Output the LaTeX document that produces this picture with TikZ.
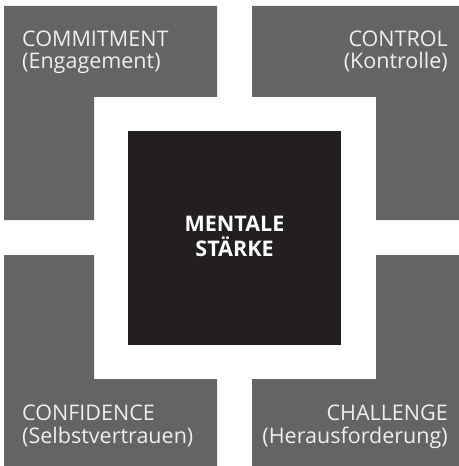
\documentclass[tikz,border=0pt]{standalone}
\usepackage{fontspec}
\setmainfont{Open Sans}
\usepackage{xcolor}
\usepackage{tikz}
\definecolor{armgray}{HTML}{646466}
\definecolor{coreblack}{HTML}{231F20}
\definecolor{labelwhite}{HTML}{EEEEEE}
\tikzset{
    arm/.style={fill=armgray, draw=none},
    core/.style={fill=coreblack, draw=none},
    title/.style={inner sep=0pt, text=labelwhite, font=\fontsize{21.6}{23}\selectfont}
}

\begin{document}
\begin{tikzpicture}[x=1bp,y=-1bp]
		\useasboundingbox (0,0) rectangle (459,466);

		% arms
		\fill[arm] (4,6) -- (217,6) -- (217,97) -- (94,97) -- (94,220) -- (4,220) -- cycle;
		\fill[arm] (252,6) -- (459,6) -- (459,220) -- (376,220) -- (376,97) -- (252,97) -- cycle;
		\fill[arm] (4,255) -- (94,255) -- (94,379) -- (217,379) -- (217,466) -- (4,466) -- cycle;
		\fill[arm] (376,255) -- (459,255) -- (459,466) -- (252,466) -- (252,379) -- (376,379) -- cycle;

		% centre
		\fill[core] (128,131) rectangle (341,345);
		\node[title, anchor=base, text=white] (mental) at (234.5,231.7) {\bfseries MENTALE};
		\node[title, anchor=base, text=white] (staerke) at (234.5,256) {\bfseries STÄRKE};

		% labels
		\node[title, anchor=base west] (commit) at (22,46.5) {COMMITMENT};
		\node[title, anchor=base west] (commitde) at (22,69) {(Engagement)};
		\node[title, anchor=base east] (control) at (448,46.5) {CONTROL};
		\node[title, anchor=base east] (controlde) at (448,69) {(Kontrolle)};
		\node[title, anchor=base west] (confid) at (22,420) {CONFIDENCE};
		\node[title, anchor=base west] (confidde) at (22,443) {(Selbstvertrauen)};
		\node[title, anchor=base east] (chall) at (448,420) {CHALLENGE};
		\node[title, anchor=base east] (challde) at (448,443) {(Herausforderung)};
\end{tikzpicture}
\end{document}
